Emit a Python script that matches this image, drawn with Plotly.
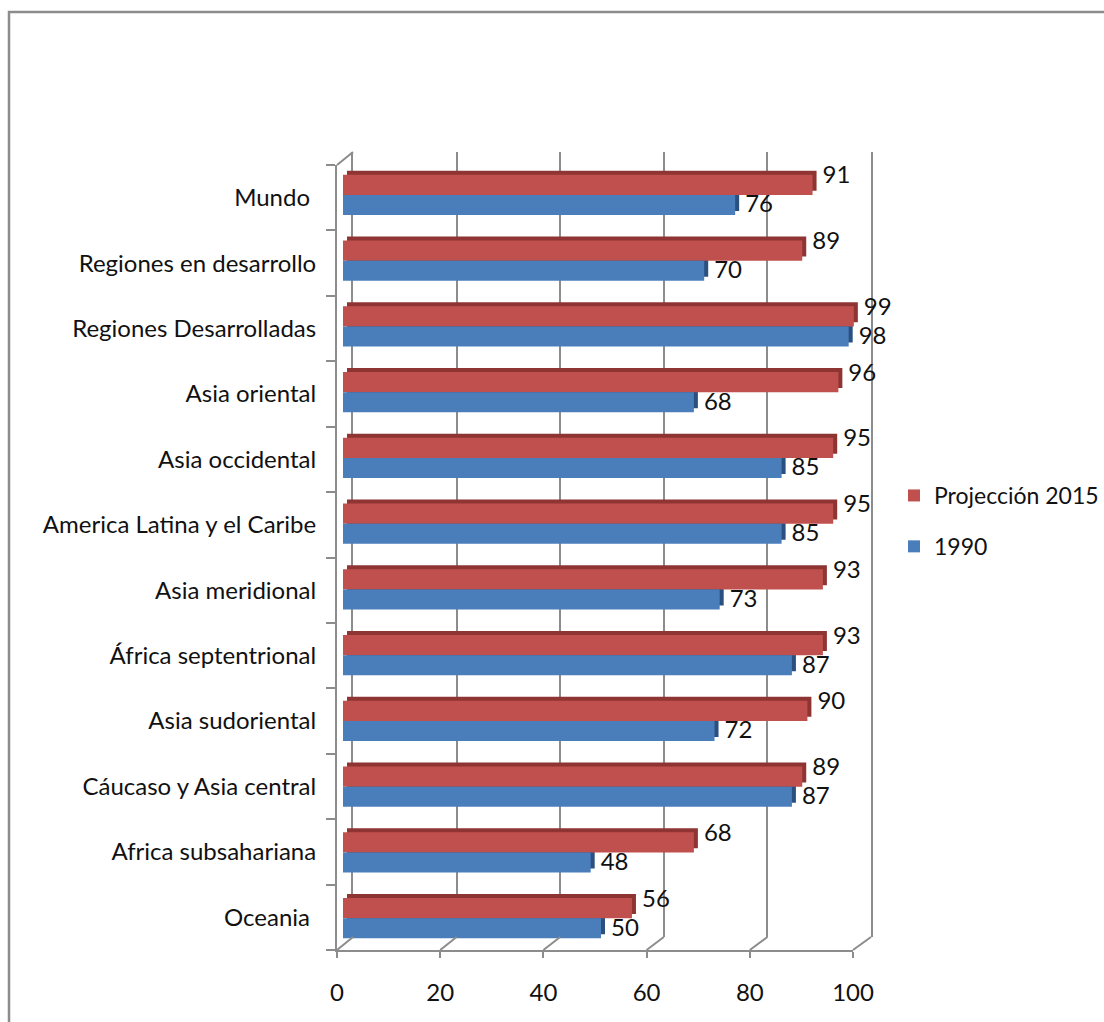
import plotly.graph_objects as go

# --- data -------------------------------------------------------------
regions = [
    "Mundo\u00a0",
    "Regiones en desarrollo",
    "Regiones Desarrolladas",
    "Asia oriental",
    "Asia occidental",
    "America Latina y el Caribe",
    "Asia meridional",
    "África septentrional",
    "Asia sudoriental",
    "Cáucaso y Asia central",
    "Africa subsahariana",
    "Oceania\u00a0",
]
proj_2015 = [91, 89, 99, 96, 95, 95, 93, 93, 90, 89, 68, 56]
values_1990 = [76, 70, 98, 68, 85, 85, 73, 87, 72, 87, 48, 50]
x_ticks = [0, 20, 40, 60, 80, 100]

# --- look -------------------------------------------------------------
W, H = 1104, 1022
FONT = "Lato"
FS = 24
RED, RED_DARK = "#C0504D", "#8E3432"
BLUE, BLUE_DARK = "#4A7EBB", "#2A5080"
GRID = "#8C8C8C"
DEPTH = 4        # px offset of the bar side/top faces
LABEL_GAP = 3    # extra px between a bar end and its value label
# vertical px shift of each series' value labels (negative = up)
LABEL_SHIFT = {"Projección 2015": -11, "1990": -2}


def px_x(p):
    return p / W


def px_y(p):
    return 1 - p / H


def dom_x(a, b):
    return [px_x(a), px_x(b)]


def dom_y(top, bottom):
    return [px_y(bottom), px_y(top)]


# plane geometry (pixels): back wall, bar face, front axes
BACK = dict(x0=353, x1=871, top=152, bottom=937)
BARS = dict(x0=343, x1=859, top=162, bottom=951)
FRONT = dict(x0=337, x1=853, top=165, bottom=950)

n = len(regions)
series = [("Projección 2015", proj_2015, RED, RED_DARK),
          ("1990", values_1990, BLUE, BLUE_DARK)]
fig = go.Figure()

# invisible anchors so the back wall and front axes subplots get drawn
fig.add_trace(go.Scatter(x=x_ticks, y=[0.5] * len(x_ticks), mode="markers",
                         marker=dict(opacity=0), xaxis="x", yaxis="y",
                         showlegend=False, hoverinfo="skip"))
fig.add_trace(go.Scatter(x=[0] * n, y=list(range(n)), mode="markers",
                         marker=dict(opacity=0), xaxis="x4", yaxis="y4",
                         showlegend=False, hoverinfo="skip"))

label_font = dict(family=FONT, size=FS, color="#111111")

# bar "depth" faces: darker copies shifted up/right, drawn behind the fronts
for name, vals, col, dark in series:
    fig.add_trace(go.Bar(
        y=regions, x=vals, orientation="h", name=name,
        marker=dict(color=dark, line=dict(width=0)),
        xaxis="x2", yaxis="y2", showlegend=False, hoverinfo="skip",
    ))

# front faces of the bars
for name, vals, col, dark in series:
    fig.add_trace(go.Bar(
        y=regions, x=vals, orientation="h", name=name,
        marker=dict(color=col, line=dict(width=0)),
        xaxis="x3", yaxis="y3", legendgroup=name,
    ))

# value labels: one layer per series so each can sit at its own height;
# both traces go in every layer to keep the grouped bar positions
label_axes = {"Projección 2015": ("x5", "y5"), "1990": ("x6", "y6")}
for labelled, (xa, ya) in label_axes.items():
    for name, vals, col, dark in series:
        fig.add_trace(go.Bar(
            y=regions, x=vals, orientation="h", name=name,
            marker=dict(color="rgba(0,0,0,0)", line=dict(width=0)),
            text=[str(v) for v in vals] if name == labelled else None,
            textposition="outside", textfont=label_font,
            constraintext="none", cliponaxis=False,
            xaxis=xa, yaxis=ya, showlegend=False, hoverinfo="skip",
        ))

hidden_x = dict(range=[0, 100], showgrid=False, zeroline=False,
                showticklabels=False, ticks="", showline=False)
hidden_cat = dict(type="category", categoryorder="array", categoryarray=regions,
                  autorange="reversed", showgrid=False, zeroline=False,
                  showticklabels=False, ticks="", showline=False)

label_layers = {}
for labelled, (xa, ya) in label_axes.items():
    dy = LABEL_SHIFT[labelled]
    dx = DEPTH + LABEL_GAP
    label_layers["xaxis" + xa[1:]] = dict(
        domain=dom_x(BARS["x0"] + dx, BARS["x1"] + dx), anchor=ya, **hidden_x)
    label_layers["yaxis" + ya[1:]] = dict(
        domain=dom_y(BARS["top"] + dy, BARS["bottom"] + dy), anchor=xa, **hidden_cat)

fig.update_layout(
    width=W, height=H,
    margin=dict(l=0, r=0, t=0, b=0, autoexpand=False),
    paper_bgcolor="white", plot_bgcolor="rgba(0,0,0,0)",
    font=dict(family=FONT, size=FS, color="#111111"),
    barmode="group", bargap=0.39, bargroupgap=0,
    # back wall with vertical gridlines
    xaxis=dict(domain=dom_x(BACK["x0"], BACK["x1"]), anchor="y", range=[0, 100],
               tickvals=x_ticks, showgrid=True, gridcolor=GRID, gridwidth=2,
               zeroline=False, showticklabels=False, ticks="", showline=False),
    yaxis=dict(domain=dom_y(BACK["top"], BACK["bottom"]), anchor="x", range=[0, 1],
               showgrid=False, zeroline=False, showticklabels=False, ticks="",
               showline=True, linecolor=GRID, linewidth=2, mirror=True),
    # depth faces
    xaxis2=dict(domain=dom_x(BARS["x0"] + DEPTH, BARS["x1"] + DEPTH), anchor="y2",
                **hidden_x),
    yaxis2=dict(domain=dom_y(BARS["top"] - DEPTH, BARS["bottom"] - DEPTH), anchor="x2",
                **hidden_cat),
    # front faces
    xaxis3=dict(domain=dom_x(BARS["x0"], BARS["x1"]), anchor="y3", **hidden_x),
    yaxis3=dict(domain=dom_y(BARS["top"], BARS["bottom"]), anchor="x3", **hidden_cat),
    # front axes: floor line with value ticks, left wall with category labels
    xaxis4=dict(domain=dom_x(FRONT["x0"], FRONT["x1"]), anchor="y4", range=[0, 100],
                tickvals=x_ticks, showgrid=False, zeroline=False,
                showline=True, linecolor=GRID, linewidth=2,
                ticks="outside", ticklen=6, tickcolor=GRID, tickwidth=2,
                ticklabelstandoff=14, tickfont=dict(family=FONT, size=FS)),
    yaxis4=dict(domain=dom_y(FRONT["top"], FRONT["bottom"]), anchor="x4",
                range=[n - 0.5, -0.5], tickvals=list(range(n)), ticktext=regions,
                showgrid=False, zeroline=False,
                showline=True, linecolor=GRID, linewidth=2,
                ticks="outside", ticklen=0, ticklabelstandoff=14,
                tickfont=dict(family=FONT, size=FS),
                minor=dict(tickvals=[i - 0.5 for i in range(n + 1)], ticks="outside",
                           ticklen=9, tickcolor=GRID, tickwidth=2, showgrid=False)),
    legend=dict(x=px_x(894), y=px_y(521), xanchor="left", yanchor="middle",
                traceorder="grouped", tracegroupgap=18, itemwidth=30,
                font=dict(family=FONT, size=23), bgcolor="rgba(0,0,0,0)"),
    **label_layers,
)

# floor and wall edges joining the front axes to the back wall
shapes = []


def front_x(v):
    return FRONT["x0"] + (FRONT["x1"] - FRONT["x0"]) * v / 100


def back_x(v):
    return BACK["x0"] + (BACK["x1"] - BACK["x0"]) * v / 100


for t in x_ticks:
    shapes.append(dict(type="line", xref="paper", yref="paper",
                       x0=px_x(front_x(t)), y0=px_y(FRONT["bottom"]),
                       x1=px_x(back_x(t)), y1=px_y(BACK["bottom"]),
                       line=dict(color=GRID, width=2)))
shapes.append(dict(type="line", xref="paper", yref="paper",
                   x0=px_x(FRONT["x0"]), y0=px_y(FRONT["top"]),
                   x1=px_x(BACK["x0"]), y1=px_y(BACK["top"]),
                   line=dict(color=GRID, width=2)))
# outer chart border
shapes.append(dict(type="rect", xref="paper", yref="paper",
                   x0=px_x(9), y0=px_y(H + 10), x1=px_x(W + 10), y1=px_y(12),
                   line=dict(color=GRID, width=2.5), fillcolor="rgba(0,0,0,0)"))
fig.update_layout(shapes=shapes)

fig.write_html("out.html")
